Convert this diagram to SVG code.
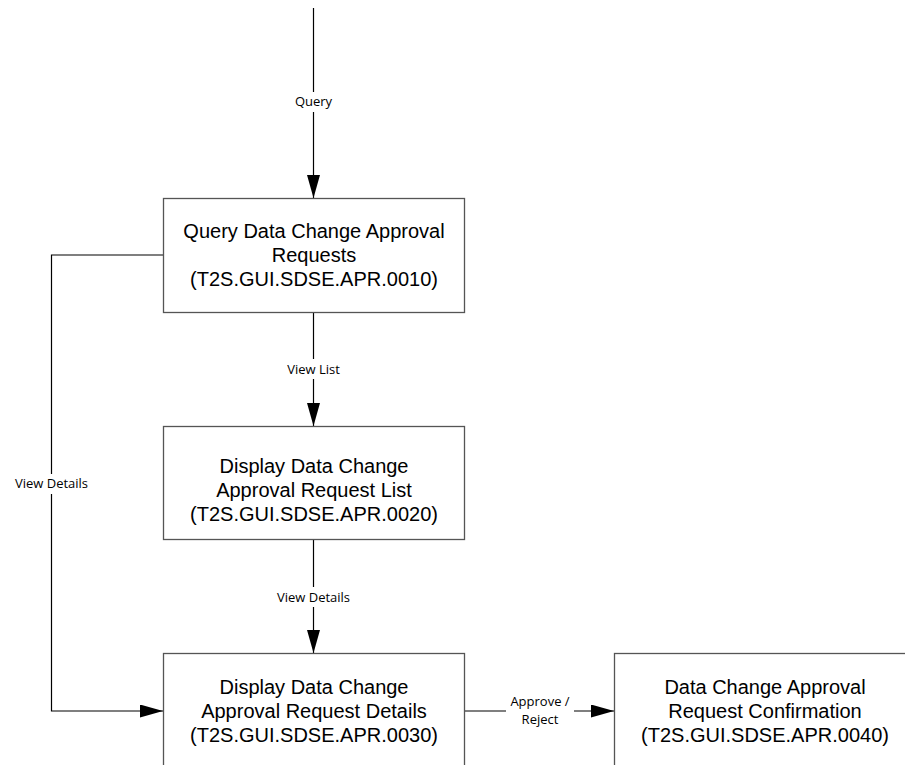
<svg xmlns="http://www.w3.org/2000/svg" width="905" height="765" viewBox="0 0 905 765">
<style>
.box{fill:#fff;stroke:#555;stroke-width:1.3}
.bt{font-family:"Liberation Sans",Arial,sans-serif;font-size:20px;fill:#000;text-anchor:middle}
.ln{fill:none;stroke:#000;stroke-width:1.2}
.lb{font-family:"Open Sans","Noto Sans",sans-serif;font-size:13px;fill:#000;text-anchor:middle}
.bg{fill:#fff}
</style>
<defs>
<marker id="arr" markerWidth="23" markerHeight="13" refX="23" refY="6.5" orient="auto" markerUnits="userSpaceOnUse">
<path d="M0,0 L23,6.5 L0,13 Z" fill="#000"/>
</marker>
</defs>
<rect width="905" height="765" fill="#fff"/>
<g id="connectors">
<line class="ln" x1="313.5" y1="8" x2="313.5" y2="198" marker-end="url(#arr)"/>
<rect class="bg" x="288" y="92" width="51" height="20"/>
<text class="lb" x="313.5" y="106">Query</text>
<line class="ln" x1="313.5" y1="312" x2="313.5" y2="426" marker-end="url(#arr)"/>
<rect class="bg" x="282" y="359" width="63" height="20"/>
<text class="lb" x="313.5" y="374">View List</text>
<line class="ln" x1="313.5" y1="539" x2="313.5" y2="653" marker-end="url(#arr)"/>
<rect class="bg" x="268" y="587" width="91" height="20"/>
<text class="lb" x="313.5" y="602">View Details</text>
<polyline class="ln" points="163,255 51.5,255 51.5,711 163,711" marker-end="url(#arr)"/>
<rect class="bg" x="6" y="474" width="91" height="20"/>
<text class="lb" x="51.5" y="488">View Details</text>
<line class="ln" x1="464" y1="711" x2="614" y2="711" marker-end="url(#arr)"/>
<rect class="bg" x="506" y="693" width="68" height="34"/>
<text class="lb" x="540" y="706">Approve /</text>
<text class="lb" x="540" y="724">Reject</text>
</g>
<g id="n0010">
<rect class="box" x="163.5" y="198.5" width="301" height="114"/>
<text class="bt" x="314" y="238">Query Data Change Approval</text>
<text class="bt" x="314" y="262">Requests</text>
<text class="bt" x="314" y="286">(T2S.GUI.SDSE.APR.0010)</text>
</g>
<g id="n0020">
<rect class="box" x="163.5" y="426.5" width="301" height="113"/>
<text class="bt" x="314" y="473">Display Data Change</text>
<text class="bt" x="314" y="497">Approval Request List</text>
<text class="bt" x="314" y="521">(T2S.GUI.SDSE.APR.0020)</text>
</g>
<g id="n0030">
<rect class="box" x="163.5" y="653.5" width="301" height="114"/>
<text class="bt" x="314" y="694">Display Data Change</text>
<text class="bt" x="314" y="718">Approval Request Details</text>
<text class="bt" x="314" y="742">(T2S.GUI.SDSE.APR.0030)</text>
</g>
<g id="n0040">
<rect class="box" x="614.5" y="653.5" width="301" height="114"/>
<text class="bt" x="765" y="694">Data Change Approval</text>
<text class="bt" x="765" y="718">Request Confirmation</text>
<text class="bt" x="765" y="742">(T2S.GUI.SDSE.APR.0040)</text>
</g>
</svg>
